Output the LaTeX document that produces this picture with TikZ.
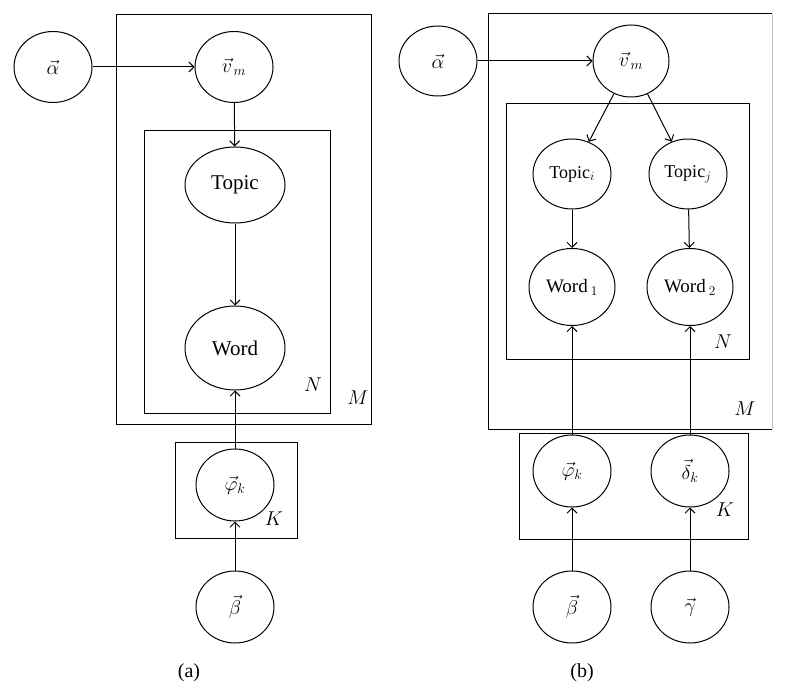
\RequirePackage{fix-cm}
\documentclass[tikz,border=0pt]{standalone}
\usepackage{fontspec}
\setmainfont{Liberation Serif}
\usetikzlibrary{shapes.geometric,arrows.meta}

\tikzset{
  var/.style={draw, ellipse, line width=1pt, inner sep=0pt,
    minimum width=78pt, minimum height=72pt, font=\fontsize{20}{24}\selectfont},
  plate/.style={draw, line width=1pt},
  platelabel/.style={font=\fontsize{20}{24}\selectfont},
  edge/.style={-{Straight Barb[length=5pt,width=10pt]}, line width=1pt},
}

\begin{document}
\begin{tikzpicture}[x=1pt, y=-1pt]
\useasboundingbox (0,0) rectangle (786,695);

% (a) plain model
\draw[plate] (116,15) rectangle (371,424);
\draw[plate] (144,131) rectangle (330,413);
\draw[plate] (175,442) rectangle (297,538);
\node[platelabel] (labNa) at (313,385) {$N$};
\node[platelabel] (labMa) at (358,398) {$M$};
\node[platelabel] (labKa) at (274,519) {$K$};

\node[var, minimum height=71pt] (alphaA) at (53,67) {$\vec{\alpha}$};
\node[var, minimum height=71pt] (vmA) at (234,67) {$\vec{v}_{\,m}$};
\node[var, minimum width=100pt, minimum height=76pt, font=\fontsize{21}{24}\selectfont] (topicA) at (235,185) {Topic};
\node[var, minimum width=100pt, minimum height=84pt, font=\fontsize{21}{24}\selectfont] (wordA) at (235,348) {Word};
\node[var] (phiA) at (235,485) {$\vec{\varphi}_k$};
\node[var] (betaA) at (235,607) {$\vec{\beta}$};
\node[platelabel] (capA) at (189,673) {(a)};

\draw[edge] (alphaA) -- (vmA);
\draw[edge] (vmA) -- (topicA);
\draw[edge] (topicA) -- (wordA);
\draw[edge] (phiA) -- (wordA);
\draw[edge] (betaA) -- (phiA);

% (b) two topics, two words
\draw[plate] (772,429) -- (488,429) -- (488,14) -- (772,14);
\draw[line width=1pt, black!25] (772,14) -- (772,429);
\draw[plate] (506,104) rectangle (749,359);
\draw[plate] (519,433) rectangle (748,539);
\node[platelabel] (labNb) at (723,342) {$N$};
\node[platelabel] (labMb) at (745,409) {$M$};
\node[platelabel] (labKb) at (725,510) {$K$};

\node[var, minimum height=70pt] (alphaB) at (438,61) {$\vec{\alpha}$};
\node[var, minimum width=76pt] (vmB) at (631,61) {$\vec{v}_{\,m}$};
\node[var, minimum height=70pt, font=\fontsize{18}{22}\selectfont] (topicI) at (572,174) {Topic$_i$};
\node[var, minimum height=70pt, font=\fontsize{18}{22}\selectfont] (topicJ) at (688,174) {Topic$_j$};
\node[var, minimum width=86pt, minimum height=77pt, font=\fontsize{19}{22}\selectfont] (wordB1) at (572,287) {Word\,$_1$};
\node[var, minimum width=86pt, minimum height=77pt, font=\fontsize{19}{22}\selectfont] (wordB2) at (690,287) {Word\,$_2$};
\node[var] (phiB) at (572,471) {$\vec{\varphi}_k$};
\node[var] (deltaB) at (690,471) {$\vec{\delta}_k$};
\node[var] (betaB) at (572,607) {$\vec{\beta}$};
\node[var] (gammaB) at (690,607) {$\vec{\gamma}$};
\node[platelabel] (capB) at (582,673) {(b)};

\draw[edge] (alphaB) -- (vmB);
\draw[edge] (vmB) -- (topicI);
\draw[edge] (vmB) -- (topicJ);
\draw[edge] (topicI) -- (wordB1);
\draw[edge] (topicJ) -- (wordB2);
\draw[edge] (phiB) -- (wordB1);
\draw[edge] (deltaB) -- (wordB2);
\draw[edge] (betaB) -- (phiB);
\draw[edge] (gammaB) -- (deltaB);
\end{tikzpicture}
\end{document}
